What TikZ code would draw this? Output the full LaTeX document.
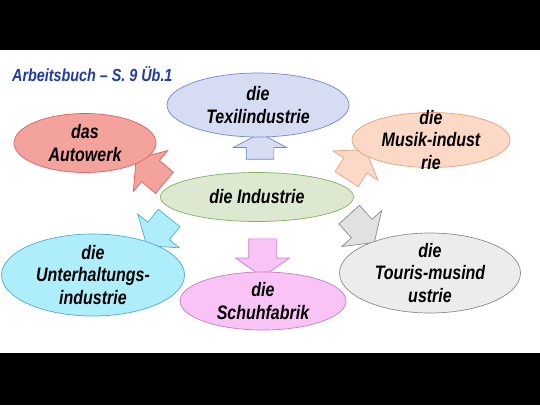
\documentclass[tikz,border=0pt]{standalone}
\usepackage{fontspec}
\setmainfont{Liberation Sans}[FakeStretch=0.82]
\usetikzlibrary{shapes.geometric,shapes.arrows,positioning}

% colours of the bubbles
\definecolor{titleblue}{RGB}{32,58,165}
\definecolor{indfill}{RGB}{220,233,208}
\definecolor{indline}{RGB}{128,176,96}
\definecolor{texfill}{RGB}{214,220,242}
\definecolor{texline}{RGB}{117,133,213}
\definecolor{autofill}{RGB}{244,162,156}
\definecolor{autoline}{RGB}{222,98,98}
\definecolor{musfill}{RGB}{252,217,198}
\definecolor{musline}{RGB}{230,160,122}
\definecolor{untfill}{RGB}{174,238,250}
\definecolor{untline}{RGB}{80,170,214}
\definecolor{schfill}{RGB}{249,196,245}
\definecolor{schline}{RGB}{199,125,199}
\definecolor{toufill}{RGB}{236,236,236}
\definecolor{touline}{RGB}{140,140,140}

\tikzset{
  bubble/.style={ellipse, draw, line width=0.7pt, inner xsep=0pt, inner ysep=-14pt,
    align=center, font=\fontsize{19.5}{22.5}\selectfont\bfseries\itshape},
  blockarrow/.style={single arrow, draw, line width=0.7pt, inner xsep=0pt, inner ysep=13.5pt,
    minimum width=53pt, single arrow head extend=13pt,
    single arrow tip angle=110, single arrow head indent=0pt},
}

\begin{document}
\begin{tikzpicture}[x=1pt, y=-1pt]
  \useasboundingbox (0,0) rectangle (540,405);
  \fill[white] (0,0) rectangle (540,405);

  % black bars of the slide
  \fill[black] (0,0) rectangle (540,50);
  \fill[black] (0,353) rectangle (540,405);

  % title
  \node[anchor=west, text=titleblue, inner sep=0pt,
    font=\fontsize{17.5}{20}\selectfont\bfseries\itshape] (title) at (12,74) {Arbeitsbuch – S. 9 Üb.1};

  % block arrows
  \node[blockarrow, fill=texfill, draw=texline, minimum height=26pt,
    single arrow tip angle=124, rotate=90] (arTex) at (260,150) {};
  \node[blockarrow, fill=schfill, draw=schline, minimum height=38pt, rotate=-90] (arSchuh) at (262.5,253) {};
  \node[blockarrow, fill=autofill, draw=autoline, minimum height=37pt, rotate=140] (arAuto) at (154,174) {};
  \node[blockarrow, fill=musfill, draw=musline, minimum height=35pt, rotate=57] (arMusik) at (353.5,168.5) {};
  \node[blockarrow, fill=toufill!90!gray, draw=touline, minimum height=37.5pt, rotate=-48] (arTouris) at (358.5,225) {};
  \node[blockarrow, fill=untfill, draw=untline, minimum height=35.5pt, rotate=-129] (arUnter) at (161,228) {};

  % bubbles
  \node[bubble, fill=indfill, draw=indline, minimum width=193pt, minimum height=49pt] (ind) at (257,197) {die Industrie};
  \node[bubble, fill=texfill, draw=texline, minimum width=182pt, minimum height=64pt] (tex) at (258,105) {die\\Texilindustrie};
  \node[bubble, fill=autofill, draw=autoline, minimum width=142pt, minimum height=59pt] (auto) at (85,143) {das\\Autowerk};
  \node[bubble, fill=musfill, draw=musline, minimum width=158pt, minimum height=55pt] (musik) at (431,140) {die\\Musik-indust\\rie};
  \node[bubble, fill=untfill, draw=untline, minimum width=183pt, minimum height=82pt] (unter) at (93,275) {die\\Unterhaltungs-\\industrie};
  \node[bubble, fill=schfill, draw=schline, minimum width=166pt, minimum height=58pt] (schuh) at (263,301) {die\\Schuhfabrik};
  \node[bubble, fill=toufill, draw=touline, minimum width=181pt, minimum height=80pt] (touris) at (430,273) {die\\Touris-musind\\ustrie};
\end{tikzpicture}
\end{document}
